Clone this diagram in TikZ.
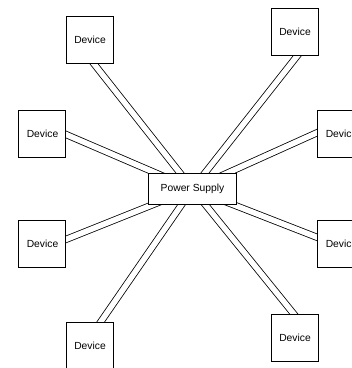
\documentclass[tikz,border=0pt]{standalone}
\usepackage{fontspec}
\setmainfont{Liberation Sans}
\usetikzlibrary{backgrounds}

\tikzset{
Dev/.style={draw=black, fill=white, rectangle, inner 
        sep=0pt, minimum width=47pt, minimum height=47pt, line width=1.0pt, font=\fontsize{10.3}{12}\selectfont},
PS/.style={draw=black, fill=white, rectangle, inner 
        sep=0pt, minimum width=88pt, minimum height=31pt, line width=1.0pt, font=\fontsize{10.3}{12}\selectfont},
PowerCable/.style={draw=black, double=white, double distance=5.5pt, line width=0.8pt, shorten <=-4pt},
}

\begin{document}
\begin{tikzpicture}[x=1pt,y=1pt]
	\useasboundingbox (0,0) rectangle (352,-368);
	\node[PS] (PS) at (192.5,-188.8) {Power Supply};
	\foreach \n/\x/\y in {1/90/39.5, 2/295/31.5, 3/42.5/133.5, 4/341.5/133.5, 5/42.5/243.5, 6/341.5/243.5, 7/90/345.8, 8/295/338}
		\node[Dev] (D\n) at (\x,-\y) {Device};
	\begin{scope}[on background layer]
	\foreach \n/\a/\dx/\dy in {1/south/3.7/0, 2/south/2.5/0, 3/east/0/-1.2, 4/west/0/1, 5/east/0/4.3, 6/west/0/6, 7/north/10.8/0, 8/north/-1.2/0}
		\draw[PowerCable] ([shift={(\dx,\dy)}]D\n.\a) -- (PS.center);
	\end{scope}
\end{tikzpicture}
\end{document}
